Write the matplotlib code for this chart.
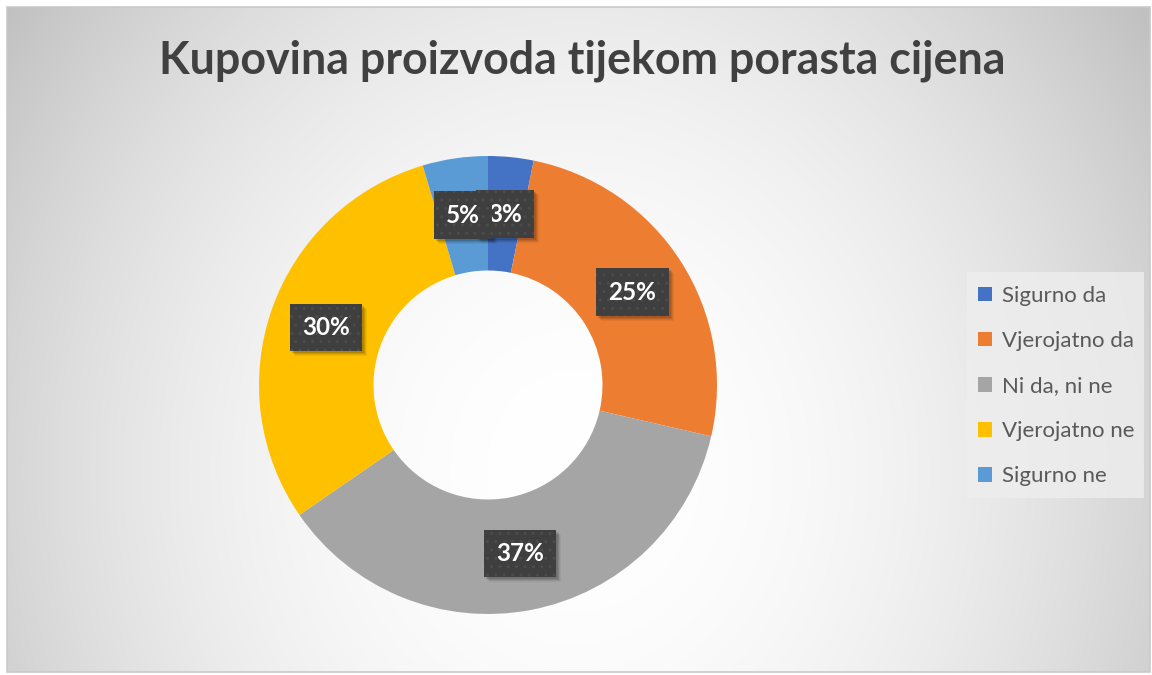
import numpy as np
import matplotlib
matplotlib.use("Agg")
import matplotlib.pyplot as plt
from matplotlib.patches import Rectangle, Patch
from matplotlib.transforms import IdentityTransform

# podaci
kategorije = ["Sigurno da", "Vjerojatno da", "Ni da, ni ne", "Vjerojatno ne", "Sigurno ne"]
udjeli = [3.2, 25.4, 36.8, 30.0, 4.6]
boje = ["#4472c4", "#ed7d31", "#a5a5a5", "#ffc000", "#5b9bd5"]
naslov = "Kupovina proizvoda tijekom porasta cijena"

W, H = 1152, 675
fig = plt.figure(figsize=(W / 100, H / 100), dpi=100)
fig.patch.set_facecolor("white")

# pozadina - radijalni gradijent
bg = fig.add_axes([0, 0, 1, 1])
bg.set_xlim(0, W)
bg.set_ylim(H, 0)
bg.axis("off")
x0, y0, x1, y1 = 7, 7, 1150, 672
xx, yy = np.meshgrid(np.arange(x0, x1), np.arange(y0, y1))
t2 = ((xx - 575) / 600.0) ** 2 + ((yy - 470) / 680.0) ** 2
val = np.clip(1 - 0.18 * t2, 0, 1)
bg.imshow(np.dstack([val, val, val]), extent=(x0, x1, y1, y0), aspect="auto", zorder=0)
bg.add_patch(Rectangle((x0, y0), x1 - x0, y1 - y0, fill=False, ec="#c9c9c9", lw=1.2, zorder=1))

# legenda - pozadina
bg.add_patch(Rectangle((967, 272), 177, 226, fc="#eeeeee", ec="none", alpha=0.8, zorder=1))

bg.text(582, 61, naslov, ha="center", va="center", fontsize=32.2, fontweight="bold",
        color="#404040", family="Lato")

# krafna
cx, cy, r = 488, 385, 229
ax = fig.add_axes([(cx - r) / W, (H - cy - r) / H, 2 * r / W, 2 * r / H])
wedges, _, autotexts = ax.pie(udjeli, colors=boje, startangle=90, counterclock=False,
                              radius=1, wedgeprops=dict(width=0.5, linewidth=0),
                              autopct=lambda p: f"{p:.0f}%", pctdistance=0.75)
ax.set_xlim(-1, 1)
ax.set_ylim(-1, 1)
for t in autotexts:
    t.set_color("white")
    t.set_fontweight("bold")
    t.set_fontsize(17.5)
    t.set_family("Lato")
    t.set_zorder(5)
    t.set_bbox(dict(boxstyle="square,pad=0.5", fc="#3f3f3f", ec="#4c4c4c", lw=0, hatch=".."))

# mekana sjena ispod okvira oznaka
fig.canvas.draw()
rend = fig.canvas.get_renderer()
for t in autotexts:
    bb = t.get_bbox_patch().get_window_extent(rend)
    for k, a in [(0, 0.12), (1, 0.09), (2, 0.07), (3, 0.05)]:
        sh = Rectangle((bb.x0 + 2 + k, bb.y0 - 2 - k), bb.width, bb.height,
                       fc="black", ec="none", alpha=a, zorder=4, clip_on=False)
        ax.add_artist(sh)
        sh.set_transform(IdentityTransform())

handles = [Patch(fc=c, ec="none") for c in boje]
fig.legend(handles, kategorije, loc="upper left", bbox_to_anchor=(958 / W, 1 - 266 / H),
           frameon=False, labelcolor="#595959", handlelength=0.62,
           handleheight=0.62, handletextpad=0.45, labelspacing=1.13,
           prop=dict(family="Lato", size=16))

fig.savefig("out.png", dpi=100, facecolor="white")
